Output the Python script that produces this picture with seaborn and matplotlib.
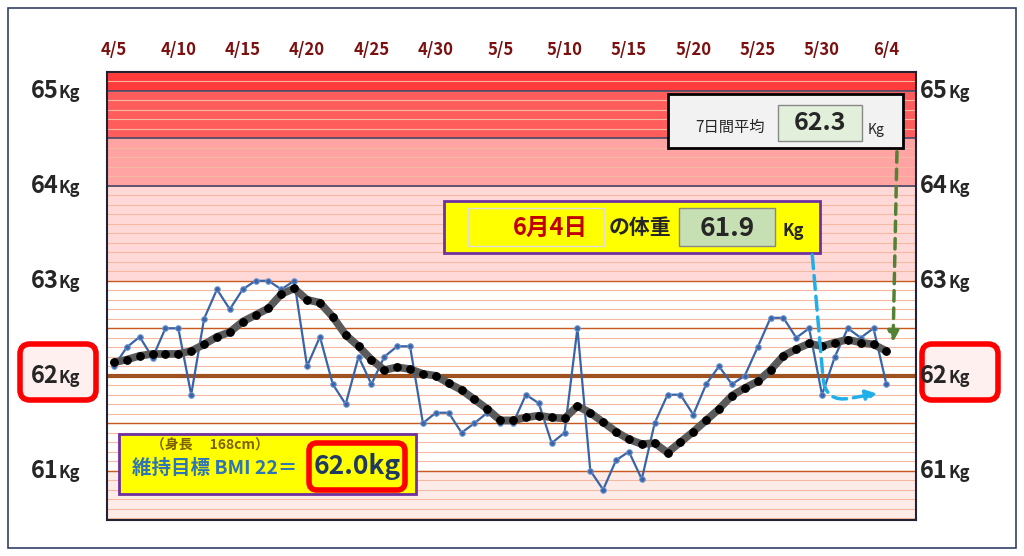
import numpy as np
import pandas as pd
import matplotlib.pyplot as plt
import matplotlib.patches as mpatches
import seaborn as sns

# ---------------------------------------------------------------------------
# Data
# ---------------------------------------------------------------------------
date_labels = ["4/5", "4/10", "4/15", "4/20", "4/25", "4/30", "5/5",
               "5/10", "5/15", "5/20", "5/25", "5/30", "6/4"]
weight = [62.10, 62.30, 62.41, 62.19, 62.50, 62.50, 61.80, 62.60, 62.91, 62.70,
          62.91, 63.00, 63.00, 62.91, 63.00, 62.10, 62.41, 61.91, 61.70, 62.20,
          61.91, 62.20, 62.31, 62.31, 61.50, 61.61, 61.61, 61.40, 61.50, 61.61,
          61.50, 61.50, 61.80, 61.71, 61.29, 61.40, 62.50, 61.00, 60.80, 61.11,
          61.20, 60.91, 61.50, 61.80, 61.80, 61.59, 61.91, 62.10, 61.91, 62.00,
          62.30, 62.61, 62.61, 62.40, 62.50, 61.80, 62.20, 62.50, 62.40, 62.50,
          61.91]
avg7 = [62.14, 62.17, 62.21, 62.23, 62.23, 62.23, 62.26, 62.33, 62.41, 62.46,
        62.57, 62.64, 62.71, 62.86, 62.92, 62.80, 62.77, 62.62, 62.43, 62.31,
        62.17, 62.06, 62.09, 62.07, 62.02, 62.00, 61.92, 61.85, 61.75, 61.65,
        61.53, 61.53, 61.56, 61.58, 61.56, 61.55, 61.68, 61.61, 61.51, 61.41,
        61.33, 61.28, 61.29, 61.19, 61.30, 61.41, 61.53, 61.65, 61.79, 61.87,
        61.94, 62.06, 62.21, 62.28, 62.34, 62.31, 62.35, 62.38, 62.35, 62.33,
        62.26]
kg_ticks = [61, 62, 63, 64, 65]

df = pd.DataFrame({"day": np.arange(len(weight)), "weight": weight, "avg": avg7})

sns.set_theme(style="white")
plt.rcParams["font.family"] = ["Noto Sans CJK JP", "DejaVu Sans"]

W, H = 1024, 556
fig = plt.figure(figsize=(W / 100, H / 100), dpi=100)
ax = fig.add_axes([107 / W, 36 / H, 809 / W, 448 / H])
ymin, ymax = 60.48, 65.2
ax.set_xlim(-0.54, 62.3)
ax.set_ylim(ymin, ymax)

# coloured bands
bands = [(65.0, ymax, "#ff3b3b"), (64.5, 65.0, "#ff5c5c"), (64.0, 64.5, "#ffa3a3"),
         (63.0, 64.0, "#ffd8d8"), (61.0, 63.0, "#ffffff"), (ymin, 61.0, "#fdebe8")]
for lo, hi, c in bands:
    ax.axhspan(lo, hi, color=c, zorder=0)
for v in np.arange(60.5, 65.2, 0.1):
    ax.axhline(v, color="#f4b9a0", lw=0.8, zorder=1)
for v in [61.0, 61.5, 62.5, 63.0]:
    ax.axhline(v, color="#c8581e", lw=1.0, zorder=1)
for v in [64.0, 64.5, 65.0]:
    ax.axhline(v, color="#444466", lw=1.2, zorder=1)
ax.axhline(62.0, color="#a0521e", lw=3, zorder=1)

sns.lineplot(data=df, x="day", y="weight", ax=ax, color="#3a64a8", lw=1.6,
             marker="o", markersize=4, markeredgecolor="#6f95d0", zorder=3)
sns.lineplot(data=df, x="day", y="avg", ax=ax, color="#5a5a5a", lw=5.5, zorder=4)
sns.lineplot(data=df, x="day", y="avg", ax=ax, color="black", lw=0,
             marker="o", markersize=5.5, markeredgecolor="black", zorder=5)

ax.set_xlabel(""); ax.set_ylabel("")
ax.set_xticks(range(0, 61, 5))
ax.set_xticklabels(date_labels)
ax.xaxis.tick_top()
ax.tick_params(axis="x", length=0, pad=9, labelsize=12, labelcolor="#7a1010")
for t in ax.get_xticklabels():
    t.set_fontweight("bold")
ax.set_yticks([])
for s in ax.spines.values():
    s.set_color("#222233"); s.set_linewidth(1.5)

# overlay in pixel coordinates for labels and boxes
ov = fig.add_axes([0, 0, 1, 1], facecolor="none")
ov.set_xlim(0, W); ov.set_ylim(H, 0); ov.axis("off")
ov.add_patch(mpatches.Rectangle((8, 8), 1008, 540, fill=False, ec="#34406a", lw=1.2))

def ypix(v):
    return 484 + 36 - (v - ymin) / (ymax - ymin) * 448

for k in kg_ticks:
    y = ypix(k)
    for xr in (93, 982):
        ov.text(xr - 34, y, f"{k}", ha="right", va="center", fontsize=17, fontweight="bold")
        ov.text(xr - 34, y + 2, "Kg", ha="left", va="center", fontsize=12, fontweight="bold")

# red rounded boxes around 62Kg
for x0 in (20, 922):
    ov.add_patch(mpatches.FancyBboxPatch((x0, 344), 76, 56, boxstyle="round,pad=0,rounding_size=10",
                                         fc="#fff0f0", ec="red", lw=4, zorder=0))

# 7-day average box
ov.add_patch(mpatches.Rectangle((668, 94), 235, 54, fc="#f2f2f2", ec="black", lw=2))
ov.add_patch(mpatches.Rectangle((778, 105), 84, 36, fc="#e2efda", ec="#888888", lw=1))
ov.text(730, 127, "7日間平均", ha="center", va="center", fontsize=11)
ov.text(820, 123, "62.3", ha="center", va="center", fontsize=18, fontweight="bold")
ov.text(876, 130, "Kg", ha="center", va="center", fontsize=10)

# today's weight box
ov.add_patch(mpatches.Rectangle((444, 201), 376, 52, fc="yellow", ec="#7030a0", lw=2))
ov.add_patch(mpatches.Rectangle((468, 208), 136, 38, fc="yellow", ec="#dddddd", lw=1))
ov.add_patch(mpatches.Rectangle((679, 208), 96, 38, fc="#c6e0b4", ec="#888888", lw=1))
ov.text(550, 228, "6月4日", ha="center", va="center", fontsize=17, fontweight="bold", color="#c00000")
ov.text(640, 228, "の体重", ha="center", va="center", fontsize=15, fontweight="bold")
ov.text(727, 229, "61.9", ha="center", va="center", fontsize=19, fontweight="bold")
ov.text(793, 231, "Kg", ha="center", va="center", fontsize=12, fontweight="bold")

# BMI box
ov.add_patch(mpatches.Rectangle((119, 434), 297, 60, fc="yellow", ec="#7030a0", lw=2))
ov.add_patch(mpatches.FancyBboxPatch((309, 443), 96, 47, boxstyle="round,pad=0,rounding_size=8",
                                     fc="yellow", ec="red", lw=4))
ov.text(210, 446, "（身長　 168cm）", ha="center", va="center", fontsize=10,
        fontweight="bold", color="#7f6000")
ov.text(215, 468, "維持目標 BMI 22＝", ha="center", va="center", fontsize=14,
        fontweight="bold", color="#2e75b6")
ov.text(357, 467, "62.0kg", ha="center", va="center", fontsize=19,
        fontweight="bold", color="#1f3864")

# arrows
ov.annotate("", xy=(893, 345), xytext=(897, 149),
            arrowprops=dict(arrowstyle="-|>", color="#548235", lw=2.5, ls=(0, (3, 2)),
                            mutation_scale=16))
ov.annotate("", xy=(880, 393), xytext=(812, 252),
            arrowprops=dict(arrowstyle="-|>", color="#1fb0ec", lw=2.5, ls=(0, (4, 2)),
                            mutation_scale=16,
                            connectionstyle="angle,angleA=-85,angleB=10,rad=25"))

fig.savefig("out.png", dpi=100)
